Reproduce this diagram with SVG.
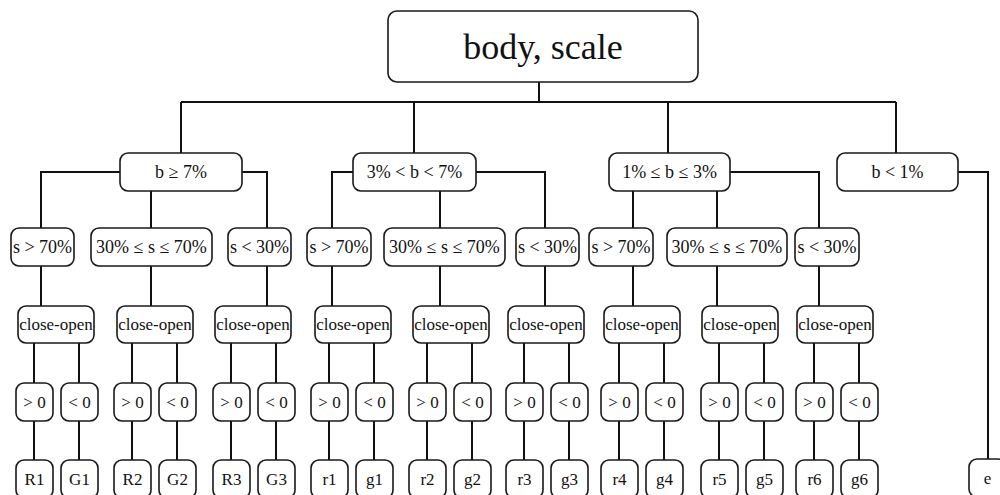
<svg xmlns="http://www.w3.org/2000/svg" width="1000" height="495" viewBox="0 0 1000 495" font-family="Liberation Serif, serif">
<style>
.n rect{fill:#fff;stroke:#1a1a1a;stroke-width:1.6}
.n text{font-family:'Liberation Serif',serif;font-size:17px;fill:#111;text-anchor:middle;dominant-baseline:central}
.n text.m{font-size:18px}
.c path{fill:none;stroke:#111;stroke-width:2}
</style>
<rect width="1000" height="495" fill="#fff"/>
<g class="c" id="connectors">
<path d="M539,82V102M181,102H896M181,102V153M414,102V153M668,102V153M896,102V153"/>
<path d="M120,172H41V228M242,172H267V228M151,191V228"/>
<path d="M353,172H332V228M476,172H545V228M440,191V228"/>
<path d="M633,191V228M717,191V228M730,172H819V228"/>
<path d="M958,172H988V459"/>
<path d="M41,266V306M151,266V306M267,266V306M332,266V306M440,266V306M545,266V306M633,266V306M717,266V306M819,266V306"/>
<path d="M34,343V460M79,343V460M132,343V460M177,343V460M231,343V460M276,343V460M329,343V460M374,343V460M427,343V460M472,343V460M524,343V460M569,343V460M619,343V460M664,343V460M719,343V460M764,343V460M814,343V460M859,343V460"/>
</g>
<g class="n" id="root"><rect x="388" y="11" width="310" height="71" rx="9"/><text x="543" y="46.5" style="font-size:36px">body, scale</text></g>
<g class="n" id="b1"><rect x="120" y="153" width="122" height="38" rx="8"/><text class="m" x="181" y="172">b ≥ 7%</text></g>
<g class="n" id="b2"><rect x="353" y="153" width="123" height="38" rx="8"/><text class="m" x="414.5" y="172">3% &lt; b &lt; 7%</text></g>
<g class="n" id="b3"><rect x="609" y="153" width="121" height="38" rx="8"/><text class="m" x="669.5" y="172">1% ≤ b ≤ 3%</text></g>
<g class="n" id="b4"><rect x="837" y="153" width="121" height="38" rx="8"/><text class="m" x="897.5" y="172">b &lt; 1%</text></g>
<g class="n" id="s1a"><rect x="11" y="228" width="63" height="38" rx="8"/><text class="m" x="42.5" y="247">s &gt; 70%</text></g>
<g class="n" id="s1b"><rect x="91" y="228" width="121" height="38" rx="8"/><text class="m" x="151.5" y="247">30% ≤ s ≤ 70%</text></g>
<g class="n" id="s1c"><rect x="228" y="228" width="63" height="38" rx="8"/><text class="m" x="259.5" y="247">s &lt; 30%</text></g>
<g class="n" id="s2a"><rect x="307" y="228" width="64" height="38" rx="8"/><text class="m" x="339" y="247">s &gt; 70%</text></g>
<g class="n" id="s2b"><rect x="384" y="228" width="121" height="38" rx="8"/><text class="m" x="444.5" y="247">30% ≤ s ≤ 70%</text></g>
<g class="n" id="s2c"><rect x="516" y="228" width="63" height="38" rx="8"/><text class="m" x="547.5" y="247">s &lt; 30%</text></g>
<g class="n" id="s3a"><rect x="589" y="228" width="64" height="38" rx="8"/><text class="m" x="621" y="247">s &gt; 70%</text></g>
<g class="n" id="s3b"><rect x="667" y="228" width="120" height="38" rx="8"/><text class="m" x="727" y="247">30% ≤ s ≤ 70%</text></g>
<g class="n" id="s3c"><rect x="795" y="228" width="64" height="38" rx="8"/><text class="m" x="827" y="247">s &lt; 30%</text></g>
<g class="n" id="co1"><rect x="18" y="306" width="76" height="37" rx="8"/><text x="56" y="324.5">close-open</text></g>
<g class="n" id="co2"><rect x="117" y="306" width="76" height="37" rx="8"/><text x="155" y="324.5">close-open</text></g>
<g class="n" id="co3"><rect x="215" y="306" width="76" height="37" rx="8"/><text x="253" y="324.5">close-open</text></g>
<g class="n" id="co4"><rect x="315" y="306" width="76" height="37" rx="8"/><text x="353" y="324.5">close-open</text></g>
<g class="n" id="co5"><rect x="413" y="306" width="76" height="37" rx="8"/><text x="451" y="324.5">close-open</text></g>
<g class="n" id="co6"><rect x="508" y="306" width="76" height="37" rx="8"/><text x="546" y="324.5">close-open</text></g>
<g class="n" id="co7"><rect x="604" y="306" width="76" height="37" rx="8"/><text x="642" y="324.5">close-open</text></g>
<g class="n" id="co8"><rect x="702" y="306" width="76" height="37" rx="8"/><text x="740" y="324.5">close-open</text></g>
<g class="n" id="co9"><rect x="797" y="306" width="76" height="37" rx="8"/><text x="835" y="324.5">close-open</text></g>
<g class="n" id="p1"><rect x="16" y="383" width="37" height="38" rx="8"/><text x="34.5" y="402">&gt; 0</text></g>
<g class="n" id="m1"><rect x="61" y="383" width="37" height="38" rx="8"/><text x="79.5" y="402">&lt; 0</text></g>
<g class="n" id="p2"><rect x="114" y="383" width="37" height="38" rx="8"/><text x="132.5" y="402">&gt; 0</text></g>
<g class="n" id="m2"><rect x="159" y="383" width="37" height="38" rx="8"/><text x="177.5" y="402">&lt; 0</text></g>
<g class="n" id="p3"><rect x="213" y="383" width="37" height="38" rx="8"/><text x="231.5" y="402">&gt; 0</text></g>
<g class="n" id="m3"><rect x="258" y="383" width="37" height="38" rx="8"/><text x="276.5" y="402">&lt; 0</text></g>
<g class="n" id="p4"><rect x="311" y="383" width="37" height="38" rx="8"/><text x="329.5" y="402">&gt; 0</text></g>
<g class="n" id="m4"><rect x="356" y="383" width="37" height="38" rx="8"/><text x="374.5" y="402">&lt; 0</text></g>
<g class="n" id="p5"><rect x="409" y="383" width="37" height="38" rx="8"/><text x="427.5" y="402">&gt; 0</text></g>
<g class="n" id="m5"><rect x="454" y="383" width="37" height="38" rx="8"/><text x="472.5" y="402">&lt; 0</text></g>
<g class="n" id="p6"><rect x="506" y="383" width="37" height="38" rx="8"/><text x="524.5" y="402">&gt; 0</text></g>
<g class="n" id="m6"><rect x="551" y="383" width="37" height="38" rx="8"/><text x="569.5" y="402">&lt; 0</text></g>
<g class="n" id="p7"><rect x="601" y="383" width="37" height="38" rx="8"/><text x="619.5" y="402">&gt; 0</text></g>
<g class="n" id="m7"><rect x="646" y="383" width="37" height="38" rx="8"/><text x="664.5" y="402">&lt; 0</text></g>
<g class="n" id="p8"><rect x="701" y="383" width="37" height="38" rx="8"/><text x="719.5" y="402">&gt; 0</text></g>
<g class="n" id="m8"><rect x="746" y="383" width="37" height="38" rx="8"/><text x="764.5" y="402">&lt; 0</text></g>
<g class="n" id="p9"><rect x="796" y="383" width="37" height="38" rx="8"/><text x="814.5" y="402">&gt; 0</text></g>
<g class="n" id="m9"><rect x="841" y="383" width="37" height="38" rx="8"/><text x="859.5" y="402">&lt; 0</text></g>
<g class="n" id="R1"><rect x="16" y="460" width="37" height="38" rx="8"/><text x="34.5" y="479">R1</text></g>
<g class="n" id="G1"><rect x="61" y="460" width="37" height="38" rx="8"/><text x="79.5" y="479">G1</text></g>
<g class="n" id="R2"><rect x="114" y="460" width="37" height="38" rx="8"/><text x="132.5" y="479">R2</text></g>
<g class="n" id="G2"><rect x="159" y="460" width="37" height="38" rx="8"/><text x="177.5" y="479">G2</text></g>
<g class="n" id="R3"><rect x="213" y="460" width="37" height="38" rx="8"/><text x="231.5" y="479">R3</text></g>
<g class="n" id="G3"><rect x="258" y="460" width="37" height="38" rx="8"/><text x="276.5" y="479">G3</text></g>
<g class="n" id="r1"><rect x="311" y="460" width="37" height="38" rx="8"/><text x="329.5" y="479">r1</text></g>
<g class="n" id="g1"><rect x="356" y="460" width="37" height="38" rx="8"/><text x="374.5" y="479">g1</text></g>
<g class="n" id="r2"><rect x="409" y="460" width="37" height="38" rx="8"/><text x="427.5" y="479">r2</text></g>
<g class="n" id="g2"><rect x="454" y="460" width="37" height="38" rx="8"/><text x="472.5" y="479">g2</text></g>
<g class="n" id="r3"><rect x="506" y="460" width="37" height="38" rx="8"/><text x="524.5" y="479">r3</text></g>
<g class="n" id="g3"><rect x="551" y="460" width="37" height="38" rx="8"/><text x="569.5" y="479">g3</text></g>
<g class="n" id="r4"><rect x="601" y="460" width="37" height="38" rx="8"/><text x="619.5" y="479">r4</text></g>
<g class="n" id="g4"><rect x="646" y="460" width="37" height="38" rx="8"/><text x="664.5" y="479">g4</text></g>
<g class="n" id="r5"><rect x="701" y="460" width="37" height="38" rx="8"/><text x="719.5" y="479">r5</text></g>
<g class="n" id="g5"><rect x="746" y="460" width="37" height="38" rx="8"/><text x="764.5" y="479">g5</text></g>
<g class="n" id="r6"><rect x="796" y="460" width="37" height="38" rx="8"/><text x="814.5" y="479">r6</text></g>
<g class="n" id="g6"><rect x="841" y="460" width="37" height="38" rx="8"/><text x="859.5" y="479">g6</text></g>
<g class="n" id="e"><rect x="969" y="459" width="37" height="38" rx="8"/><text x="987.5" y="478">e</text></g>
</svg>
